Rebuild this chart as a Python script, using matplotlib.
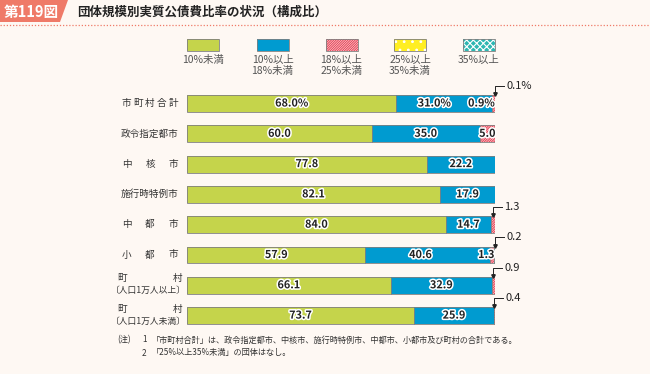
import matplotlib
matplotlib.use("Agg")
import matplotlib.pyplot as plt
from matplotlib.patches import Rectangle, Polygon
import matplotlib.patheffects as pe

plt.rcParams['font.family'] = ['Noto Sans CJK JP', 'DejaVu Sans']
plt.rcParams['hatch.linewidth'] = 0.8

# ---------------- data ----------------
categories = ["市町村合計", "政令指定都市", "中核市", "施行時特例市",
              "中都市", "小都市", "町村\n〔人口1万人以上〕", "町村\n〔人口1万人未満〕"]
series_names = ["10%未満", "10%以上\n18%未満", "18%以上\n25%未満", "25%以上\n35%未満", "35%以上"]
under10 = [68.0, 60.0, 77.8, 82.1, 84.0, 57.9, 66.1, 73.7]
r10_18 = [31.0, 35.0, 22.2, 17.9, 14.7, 40.6, 32.9, 25.9]
r18_25 = [0.9, 5.0, 0.0, 0.0, 1.3, 1.3, 0.9, 0.4]
r25_35 = [0.0, 0.0, 0.0, 0.0, 0.0, 0.0, 0.0, 0.0]
over35 = [0.1, 0.0, 0.0, 0.0, 0.0, 0.2, 0.0, 0.0]
series = [under10, r10_18, r18_25, r25_35, over35]
title_tag = "第119図"
title = "団体規模別実質公債費比率の状況（構成比）"
notes = ["「市町村合計」は、政令指定都市、中核市、施行時特例市、中都市、小都市及び町村の合計である。",
         "「25%以上35%未満」の団体はなし。"]

# ---------------- styles ----------------
BG = '#FEF8F3'
face = ['#C5D44B', '#009BD0', '#FCE6E8', '#FFEE22', '#2DB7B2']
hcol = ['#C5D44B', '#009BD0', '#E8485A', '#FFFFFF', '#FFFFFF']
hatches = [None, None, '/' * 14, '..', 'xxxxx']
EDGE = '#7F7F7F'
TXT = '#333333'

W, H = 650, 374
fig = plt.figure(figsize=(W / 100, H / 100), dpi=100, facecolor=BG)

bg = fig.add_axes([0, 0, 1, 1])
bg.set_xlim(0, W)
bg.set_ylim(H, 0)
bg.axis('off')
bg.set_zorder(0)

# header
bg.add_patch(Polygon([[0, 0], [68, 0], [60, 22], [0, 22]], closed=True,
                     facecolor='#EF7A68', edgecolor='none'))
bg.text(31, 11.5, title_tag, color='white', fontsize=10.5, fontweight='bold',
        ha='center', va='center')
bg.text(77, 12, title, color='#222222', fontsize=9, fontweight='bold',
        ha='left', va='center')
bg.plot([0, W], [24.5, 24.5], color='#EF7A68', lw=0.9, ls=(0, (1, 1.5)))

# legend
leg_cx = [203, 272.5, 341.5, 410, 478.5]
for k, name in enumerate(series_names):
    cx = leg_cx[k]
    bg.add_patch(Rectangle((cx - 16, 39), 32, 12, facecolor=face[k],
                           edgecolor=hcol[k], hatch=hatches[k], lw=0))
    bg.add_patch(Rectangle((cx - 16, 39), 32, 12, fill=False,
                           edgecolor=EDGE, lw=0.6))
    bg.text(cx, 54.5, name, ha='center', va='top', fontsize=7.5, color='#555555',
            linespacing=1.15)

# notes
NFS = 5.9
bg.text(117, 340, "(注)", fontsize=NFS, color=TXT, va='center')
for j, note in enumerate(notes):
    y = 340 + j * 13
    bg.text(142, y, str(j + 1), fontsize=NFS, color=TXT, va='center')
    bg.text(152, y, note, fontsize=NFS, color=TXT, va='center')

# category labels (justified within a box)
CFS = 6.9
row_y0, row_dy = 103.5, 30.3
lx0, lx1 = 122, 178
for i, cat in enumerate(categories):
    yc = row_y0 + i * row_dy
    if "\n" in cat:
        top, bottom = cat.split("\n")
        bg.text(117, yc - 6.5, top[0], fontsize=CFS, color=TXT, ha='left', va='center')
        bg.text(182, yc - 6.5, top[-1], fontsize=CFS, color=TXT, ha='right', va='center')
        bg.text(186, yc + 5.5, bottom, fontsize=6.3, color=TXT, ha='right', va='center')
    elif len(cat) < 6:
        n = len(cat)
        step = (lx1 - lx0 - 9.3) / (n - 1)
        for c, ch in enumerate(cat):
            bg.text(lx0 + 4.65 + c * step, yc, ch, fontsize=CFS, color=TXT,
                    ha='center', va='center')
    else:
        bg.text(lx1, yc, cat, fontsize=CFS, color=TXT, ha='right', va='center')

# ---------------- bars ----------------
ax = fig.add_axes([187 / W, 1 - (row_y0 + 7.5 * row_dy) / H, 308 / W, 8 * row_dy / H])
ax.set_zorder(1)
ax.patch.set_alpha(0)
ax.set_xlim(0, 100)
ax.set_ylim(7.5, -0.5)
ax.axis('off')

bh = 0.56
ypos = list(range(len(categories)))
lefts = [0.0] * len(categories)
for k, vals in enumerate(series):
    ax.barh(ypos, vals, left=lefts, height=bh, color=face[k], edgecolor=hcol[k],
            hatch=hatches[k], lw=0)
    ax.barh(ypos, vals, left=lefts, height=bh, fill=False, edgecolor=EDGE, lw=0.6)
    lefts = [l + v for l, v in zip(lefts, vals)]

stroke = [pe.withStroke(linewidth=2.2, foreground='white')]
VFS = 7.8
VW = 'bold'
for i in ypos:
    suffix = "%" if i == 0 else ""
    starts = [0.0]
    for s in series:
        starts.append(starts[-1] + s[i])
    inside_small = None
    for k in (2, 3, 4):
        v = series[k][i]
        if v <= 0:
            continue
        later = any(series[m][i] > 0 for m in range(k + 1, 5))
        lab = f"{v:.1f}{suffix}"
        if v >= 3:
            ax.text(starts[k] + v / 2, i, lab, ha='center', va='center', fontsize=VFS,
                    fontweight=VW, color='#222222', path_effects=stroke, zorder=5)
        elif later:
            ax.text(starts[k] + v, i, lab, ha='right', va='center', fontsize=VFS,
                    fontweight=VW, color='#222222', path_effects=stroke, zorder=5)
            inside_small = lab
        else:
            xm = starts[k] + v / 2
            ytop = i - bh / 2
            yl = ytop - 0.3
            ax.plot([xm, xm, xm + 2.9], [ytop - 0.06, yl, yl], color='#222222',
                    lw=0.7, clip_on=False, zorder=6)
            ax.plot([xm], [ytop - 0.03], marker='v', ms=2.5, color='#222222',
                    clip_on=False, zorder=6)
            ax.text(xm + 3.7, yl, lab, ha='left', va='center', fontsize=8,
                    color='#222222', zorder=6)
    for k in (0, 1):
        v = series[k][i]
        xc = starts[k] + v / 2
        if k == 1 and inside_small is not None:
            xc -= 0.8 * len(inside_small)
        ax.text(xc, i, f"{v:.1f}{suffix}", ha='center', va='center', fontsize=VFS,
                fontweight=VW, color='#222222', path_effects=stroke, zorder=5)

fig.savefig("out.png", dpi=100, facecolor=BG)
